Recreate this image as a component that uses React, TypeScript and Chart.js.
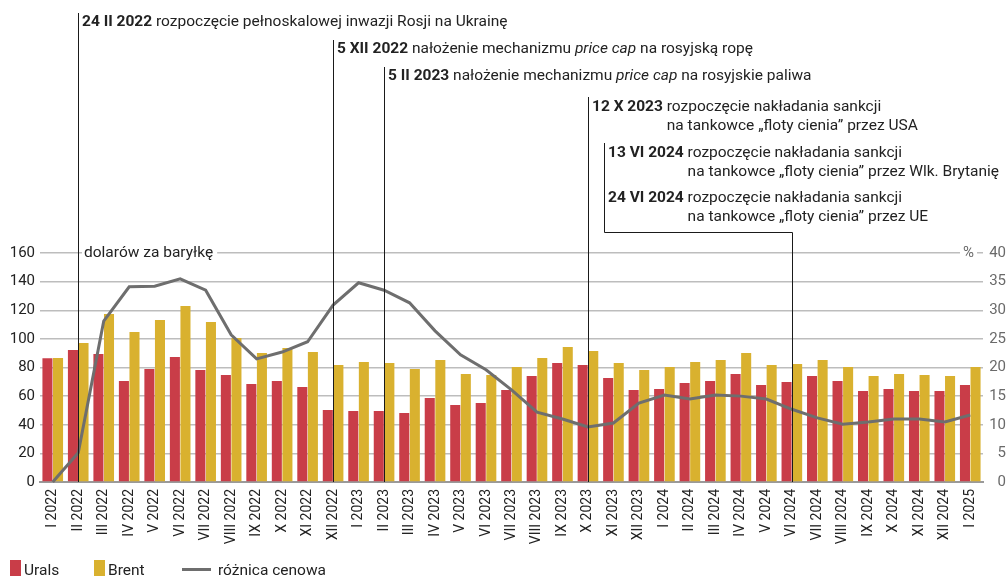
import React, { useEffect, useRef } from 'react';
import { Chart, registerables } from 'chart.js';

Chart.register(...registerables);

const categories = [
  'I 2022', 'II 2022', 'III 2022', 'IV 2022', 'V 2022', 'VI 2022', 'VII 2022', 'VIII 2022', 'IX 2022', 'X 2022', 'XI 2022', 'XII 2022',
  'I 2023', 'II 2023', 'III 2023', 'IV 2023', 'V 2023', 'VI 2023', 'VII 2023', 'VIII 2023', 'IX 2023', 'X 2023', 'XI 2023', 'XII 2023',
  'I 2024', 'II 2024', 'III 2024', 'IV 2024', 'V 2024', 'VI 2024', 'VII 2024', 'VIII 2024', 'IX 2024', 'X 2024', 'XI 2024', 'XII 2024',
  'I 2025',
];

const urals = [
  86.5, 92.2, 89.4, 70.6, 79.0, 87.4, 78.3, 74.8, 68.5, 70.6, 66.4, 50.3,
  49.6, 49.6, 48.2, 58.7, 53.8, 55.2, 64.3, 74.1, 83.2, 81.8, 72.7, 64.3,
  65.0, 69.2, 70.6, 75.5, 67.8, 69.9, 74.1, 70.6, 63.6, 65.0, 63.6, 63.6,
  67.8,
];

const brent = [
  86.7, 97.1, 117.4, 104.8, 113.2, 123.0, 111.8, 100.6, 90.1, 93.6, 90.8, 81.8,
  83.9, 83.2, 79.0, 85.3, 75.5, 74.8, 80.4, 86.7, 94.3, 91.5, 83.2, 78.3,
  80.4, 83.9, 85.3, 90.1, 81.8, 82.5, 85.3, 80.4, 74.1, 75.5, 74.8, 74.1,
  80.4,
];

const spread = [
  0, 5.1, 28.1, 34.1, 34.2, 35.5, 33.5, 25.7, 21.5, 22.7, 24.5, 30.9,
  34.8, 33.5, 31.3, 26.4, 22.2, 19.6, 16.1, 12.2, 11.0, 9.6, 10.3, 13.8,
  15.2, 14.5, 15.2, 15.0, 14.5, 12.7, 11.2, 10.1, 10.5, 11.0, 11.0, 10.5,
  11.7,
];

const seriesLabels = ['Urals', 'Brent', 'różnica cenowa'];
const leftAxisTitle = 'dolarów za baryłkę';
const rightAxisTitle = '%';

// event category, bold date, rest of first line (segments), second line
const eventCategory = ['II 2022', 'XII 2022', 'II 2023', 'X 2023', 'VI 2024', 'VI 2024'];
const eventDates = ['24 II 2022', '5 XII 2022', '5 II 2023', '12 X 2023', '13 VI 2024', '24 VI 2024'];
const eventLine1: [string, string][][] = [
  [[' rozpoczęcie pełnoskalowej inwazji Rosji na Ukrainę', 'n']],
  [[' nałożenie mechanizmu ', 'n'], ['price cap', 'i'], [' na rosyjską ropę', 'n']],
  [[' nałożenie mechanizmu ', 'n'], ['price cap', 'i'], [' na rosyjskie paliwa', 'n']],
  [[' rozpoczęcie nakładania sankcji', 'n']],
  [[' rozpoczęcie nakładania sankcji', 'n']],
  [[' rozpoczęcie nakładania sankcji', 'n']],
];
const eventLine2 = [
  '', '', '',
  'na tankowce „floty cienia” przez USA',
  'na tankowce „floty cienia” przez Wlk. Brytanię',
  'na tankowce „floty cienia” przez UE',
];

const RED = '#C93D48';
const YELLOW = '#D9B12F';
const GREY_LINE = '#6E6E6E';
const FONT = 'Roboto';

const fontFor = (s: string, size = 15.5) =>
  s === 'b' ? `700 ${size}px ${FONT}` : s === 'i' ? `italic 400 ${size}px ${FONT}` : `400 ${size}px ${FONT}`;

const overlayPlugin = {
  id: 'overlay',
  beforeDatasetsDraw(chart: any) {
    const { ctx, chartArea, scales } = chart;
    const y = scales.y;
    const ytop = y.getPixelForValue(160);
    ctx.save();
    ctx.font = `400 15.5px ${FONT}`;
    ctx.textBaseline = 'middle';
    // left axis title
    const lx = chartArea.left + 44;
    const lw = ctx.measureText(leftAxisTitle).width;
    ctx.fillStyle = '#fff';
    ctx.fillRect(lx - 2, ytop - 3, lw + 6, 6);
    ctx.fillStyle = '#222';
    ctx.fillText(leftAxisTitle, lx, ytop);
    // right axis title
    ctx.font = `400 15px ${FONT}`;
    const rw = ctx.measureText(rightAxisTitle).width;
    const rx = chartArea.right - 20;
    ctx.fillStyle = '#fff';
    ctx.fillRect(rx - 3, ytop - 3, rw + 6, 6);
    ctx.fillStyle = '#6a6a6a';
    ctx.fillText(rightAxisTitle, rx, ytop);
    ctx.restore();
  },
  afterDatasetsDraw(chart: any) {
    const { ctx, chartArea, scales } = chart;
    const xs = scales.x;
    const bottom = chartArea.bottom;
    const layout = [
      { top: 13, base: 26 },
      { top: 40, base: 53 },
      { top: 67, base: 80 },
      { top: 97, base: 111, base2: 130 },
      { top: 143, base: 157, base2: 176 },
      { top: 143, base: 202, base2: 221 },
    ];
    ctx.save();
    ctx.strokeStyle = '#1a1a1a';
    ctx.lineWidth = 1;
    ctx.fillStyle = '#222';
    ctx.textBaseline = 'alphabetic';
    const vi = xs.getPixelForValue(categories.indexOf('VI 2024'));
    const elbowX = Math.round(vi - 188) + 0.5;
    const elbowY = 232.5;
    eventDates.forEach((date, i) => {
      const cx = Math.round(xs.getPixelForValue(categories.indexOf(eventCategory[i]))) + 0.5;
      const L = layout[i];
      let lineX = cx;
      if (i < 4) {
        ctx.beginPath();
        ctx.moveTo(cx, L.top);
        ctx.lineTo(cx, bottom);
        ctx.stroke();
      } else {
        lineX = elbowX;
        if (i === 4) {
          ctx.beginPath();
          ctx.moveTo(elbowX, L.top);
          ctx.lineTo(elbowX, elbowY);
          ctx.lineTo(cx, elbowY);
          ctx.lineTo(cx, bottom);
          ctx.stroke();
        }
      }
      const tx = lineX + 3.5;
      ctx.font = fontFor('b');
      ctx.fillText(date, tx, L.base);
      let px = tx + ctx.measureText(date).width;
      ctx.font = fontFor('n');
      const indent = px + ctx.measureText(' ').width;
      for (const [t, s] of eventLine1[i]) {
        ctx.font = fontFor(s);
        ctx.fillText(t, px, L.base);
        px += ctx.measureText(t).width;
      }
      if (eventLine2[i] && (L as any).base2) {
        ctx.font = fontFor('n');
        ctx.fillText(eventLine2[i], indent, (L as any).base2);
      }
    });
    ctx.restore();
  },
  afterDraw(chart: any) {
    const { ctx } = chart;
    const ds = chart.data.datasets;
    ctx.save();
    ctx.font = `400 15.5px ${FONT}`;
    ctx.textBaseline = 'alphabetic';
    ctx.fillStyle = ds[0].backgroundColor;
    ctx.fillRect(10, 560, 11, 16);
    ctx.fillStyle = '#222';
    ctx.fillText(ds[0].label, 24, 575);
    ctx.fillStyle = ds[1].backgroundColor;
    ctx.fillRect(94, 560, 11, 16);
    ctx.fillStyle = '#222';
    ctx.fillText(ds[1].label, 108, 575);
    ctx.strokeStyle = ds[2].borderColor;
    ctx.lineWidth = 3;
    ctx.beginPath();
    ctx.moveTo(182, 569.5);
    ctx.lineTo(211, 569.5);
    ctx.stroke();
    ctx.fillStyle = '#222';
    ctx.fillText(ds[2].label, 218, 575);
    ctx.restore();
  },
};

export default function App() {
  const ref = useRef<HTMLCanvasElement | null>(null);
  useEffect(() => {
    document.body.style.margin = '0';
    const canvas = ref.current;
    if (!canvas) return;
    Chart.defaults.font.family = FONT;
    const chart = new Chart(canvas, {
      type: 'bar',
      data: {
        labels: categories,
        datasets: [
          {
            type: 'bar',
            label: seriesLabels[0],
            data: urals,
            backgroundColor: RED,
            yAxisID: 'y',
            order: 2,
            barPercentage: 0.95,
            categoryPercentage: 0.83,
          },
          {
            type: 'bar',
            label: seriesLabels[1],
            data: brent,
            backgroundColor: YELLOW,
            yAxisID: 'y',
            order: 2,
            barPercentage: 0.95,
            categoryPercentage: 0.83,
          },
          {
            type: 'line',
            label: seriesLabels[2],
            data: spread,
            borderColor: GREY_LINE,
            backgroundColor: GREY_LINE,
            borderWidth: 3,
            pointRadius: 0,
            tension: 0,
            yAxisID: 'y2',
            order: 1,
            clip: false as any,
          },
        ],
      } as any,
      options: {
        animation: false,
        responsive: false,
        maintainAspectRatio: false,
        layout: { padding: { top: 253, left: 0, right: 0, bottom: 0 } },
        plugins: {
          legend: { display: false },
          tooltip: { enabled: false },
          title: { display: false },
        },
        scales: {
          x: {
            grid: { display: false, drawTicks: false },
            border: { display: true, color: '#9a9a9a', width: 2 },
            ticks: {
              autoSkip: false,
              minRotation: 90,
              maxRotation: 90,
              padding: 7,
              color: '#222',
              font: { size: 14, family: FONT },
            },
            afterFit: (s: any) => { s.height = 94; },
          },
          y: {
            position: 'left',
            min: 0,
            max: 160,
            ticks: { stepSize: 20, padding: 5, color: '#222', font: { size: 15, family: FONT } },
            grid: { color: '#bdbdbd', lineWidth: 1.5, drawTicks: false },
            border: { display: false },
            afterFit: (s: any) => { s.width = 40; },
          },
          y2: {
            position: 'right',
            min: 0,
            max: 40,
            ticks: { stepSize: 5, padding: 4, crossAlign: 'far', color: '#6a6a6a', font: { size: 15, family: FONT } },
            grid: { display: false, drawTicks: false },
            border: { display: false },
            afterFit: (s: any) => { s.width = 23; },
          },
        },
      } as any,
      plugins: [overlayPlugin],
    });
    return () => chart.destroy();
  }, []);
  return (
    <div style={{ position: 'absolute', left: 0, top: 0, width: 1006, height: 576, background: '#fff' }}>
      <canvas ref={ref} width={1006} height={576} />
    </div>
  );
}
